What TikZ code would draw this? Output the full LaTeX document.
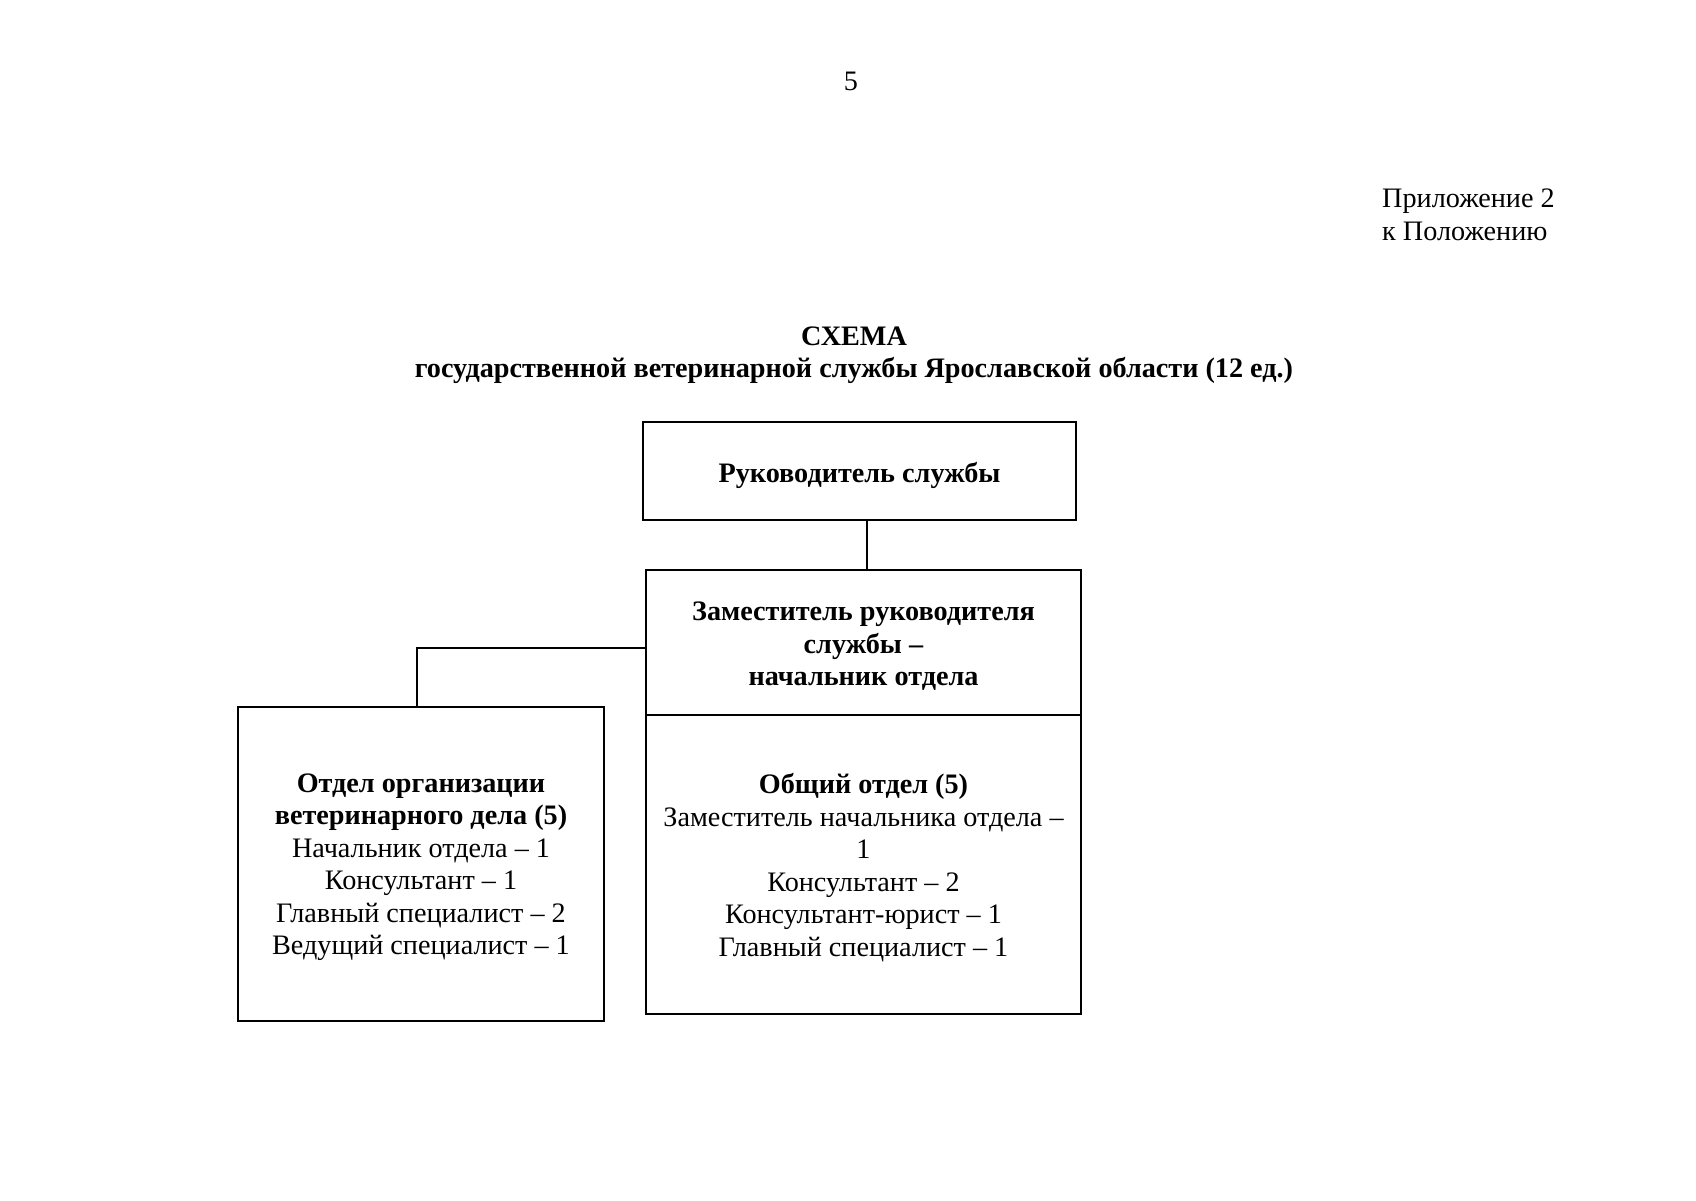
\documentclass[tikz,border=0pt]{standalone}
\usepackage{fontspec}
\setmainfont{Liberation Serif}
\newcommand\bodyfs{\fontsize{28.2}{32.5}\selectfont}
\begin{document}
\begin{tikzpicture}[x=1pt,y=-1pt,
  box/.style={draw,line width=1.6pt,inner sep=0pt},
  conn/.style={line width=1.6pt},
  txt/.style={inner sep=0pt,font=\bodyfs,align=center}]
\useasboundingbox (0,0) rectangle (1696,1200);
\fill[white] (0,0) rectangle (1696,1200);

\node[txt] (pg) at (851,81) {5};
\node[txt,anchor=west,align=left] (app) at (1382,215) {Приложение 2\\к Положению};
\node[txt,font=\bodyfs\bfseries] (title) at (854,355) {СХЕМА\\государственной ветеринарной службы Ярославской области (12 ед.)};

\node[box,minimum width=433,minimum height=98] (head) at (859.5,471) {};
\node[box,minimum width=435,minimum height=145] (dep) at (863.5,642.5) {};
\node[box,minimum width=435,minimum height=299] (gen) at (863.5,864.5) {};
\node[box,minimum width=366,minimum height=314] (org) at (421,864) {};

\node[txt] (headt) at ([yshift=-4pt]head.center) {\textbf{Руководитель службы}};
\node[txt] (dept) at ([yshift=-4pt]dep.center) {\textbf{Заместитель руководителя}\\\textbf{службы –}\\\textbf{начальник отдела}};
\node[txt] (gent) at ([yshift=-3pt]gen.center) {\textbf{Общий отдел (5)}\\Заместитель начальника отдела –\\1\\Консультант – 2\\Консультант-юрист – 1\\Главный специалист – 1};
\node[txt] (orgt) at ([yshift=-3pt]org.center) {\textbf{Отдел организации}\\\textbf{ветеринарного дела (5)}\\Начальник отдела – 1\\Консультант – 1\\Главный специалист – 2\\Ведущий специалист – 1};

\draw[conn] ([xshift=7.5pt]head.south) -- ([xshift=7.5pt]head.south |- dep.north);
\draw[conn] ([yshift=-5.5pt]dep.west) -| ([xshift=-4pt]org.north);
\end{tikzpicture}
\end{document}
